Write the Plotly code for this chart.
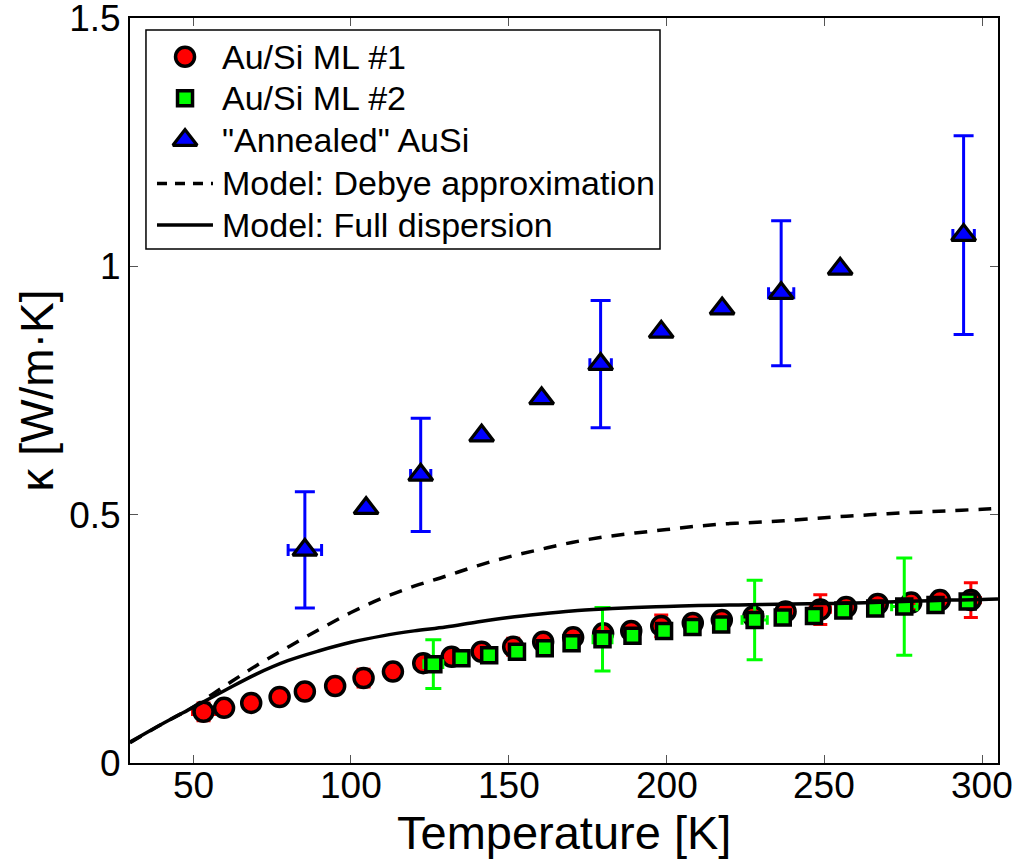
import plotly.graph_objects as go

# ---- Au/Si multilayer #1 (red circles) ----
ml1_T = [53.3, 59.8, 68.4, 77.4, 85.4, 95.0, 104.0, 113.3, 122.9, 131.9, 141.4,
         151.4, 160.9, 170.4, 179.9, 188.8, 198.3, 208.3, 217.5, 227.5, 237.7,
         248.7, 256.9, 266.9, 277.5, 286.6, 296.4]
ml1_k = [0.103, 0.111, 0.121, 0.133, 0.144, 0.155, 0.171, 0.184, 0.201, 0.214, 0.224,
         0.234, 0.244, 0.253, 0.261, 0.266, 0.276, 0.282, 0.288, 0.295, 0.305,
         0.309, 0.314, 0.320, 0.323, 0.328, 0.328]
ml1_dk = [0.018, None, None, None, None, None, 0.018, None, None, None, None,
          0.017, None, None, None, None, 0.022, None, None, None, None,
          0.030, None, None, None, None, 0.035]
ml1_dT = [3.5, None, None, None, None, None, 2.5, None, None, None, None,
          2.5, None, None, None, None, 2.5, None, None, None, None,
          3.2, None, None, None, None, 3.0]

# ---- Au/Si multilayer #2 (green squares) ----
ml2_T = [126.1, 135.0, 143.8, 152.6, 161.4, 169.9, 179.7, 189.2, 199.2, 208.2,
         217.3, 227.9, 236.8, 246.7, 256.0, 266.1, 275.3, 285.2, 295.4]
ml2_k = [0.199, 0.211, 0.217, 0.224, 0.231, 0.241, 0.249, 0.256, 0.266, 0.274,
         0.279, 0.288, 0.293, 0.296, 0.307, 0.311, 0.315, 0.318, 0.325]
ml2_dk = [0.049, None, None, None, None, None, 0.064, None, None, None,
          None, 0.080, None, None, None, None, 0.098, None, None]
ml2_dT = [3.0, None, None, None, None, None, 3.0, None, None, None,
          None, 4.0, None, None, None, None, 4.0, None, None]

# ---- "Annealed" AuSi (blue triangles) ----
ann_T = [85.4, 104.8, 122.1, 141.4, 160.4, 179.1, 198.3, 217.6, 236.3, 255.0, 294.1]
ann_k = [0.429, 0.513, 0.580, 0.659, 0.734, 0.803, 0.868, 0.915, 0.946, 0.995, 1.063]
ann_dk = [0.117, None, 0.114, None, None, 0.128, None, None, 0.146, None, 0.200]
ann_dT = [5.3, None, 3.2, None, None, 3.4, None, None, 4.0, None, 3.4]

# ---- Model curves ----
model_T = [30, 40, 50, 60, 70, 80, 90, 100, 110, 120, 130, 140, 150, 160, 170,
           180, 190, 200, 210, 220, 230, 240, 250, 260, 270, 280, 290, 300, 305]
debye_k = [0.041, 0.078, 0.113, 0.155, 0.196, 0.233, 0.269, 0.303, 0.332, 0.356,
           0.376, 0.397, 0.415, 0.430, 0.444, 0.455, 0.463, 0.470, 0.477, 0.482,
           0.485, 0.489, 0.494, 0.498, 0.502, 0.505, 0.508, 0.511, 0.513]
full_k = [0.042, 0.078, 0.112, 0.146, 0.179, 0.206, 0.226, 0.243, 0.256, 0.266,
          0.274, 0.284, 0.293, 0.300, 0.306, 0.310, 0.313, 0.315, 0.317, 0.318,
          0.319, 0.320, 0.321, 0.322, 0.324, 0.326, 0.328, 0.329, 0.330]

x_ticks = [50, 100, 150, 200, 250, 300]
x_tick_text = ["50", "100", "150", "200", "250", "300"]
y_ticks = [0, 0.5, 1, 1.5]
y_tick_text = ["0", "0.5", "1", "1.5"]

legend_labels = ["Au/Si ML #1", "Au/Si ML #2", "\"Annealed\" AuSi",
                 "Model: Debye approximation", "Model: Full dispersion"]
x_title = "Temperature [K]"
y_title = "κ [W/m·K]"

FONT = "Liberation Sans, Arial, Helvetica, sans-serif"
DASH = "13px,10px"

RED, GREEN, BLUE = "#FF0000", "#00FF00", "#0000FF"
MK = {
    "ml1": dict(symbol="circle", size=19, color=RED, line=dict(color="black", width=3.5)),
    "ml2": dict(symbol="square", size=15, color=GREEN, line=dict(color="black", width=3.5)),
    "ann": dict(symbol="triangle-up", size=21, color=BLUE, line=dict(color="black", width=3.2)),
}


def err_trace(T, k, dk, dT, color, cap):
    idx = [i for i, v in enumerate(dk) if v is not None]
    return go.Scatter(
        x=[T[i] for i in idx], y=[k[i] for i in idx], mode="markers",
        marker=dict(size=1, color="rgba(0,0,0,0)"),
        error_y=dict(type="data", array=[dk[i] for i in idx], color=color,
                     thickness=3, width=cap),
        error_x=dict(type="data", array=[dT[i] for i in idx], color=color,
                     thickness=3, width=cap * 0.6),
        showlegend=False, hoverinfo="skip",
    )


fig = go.Figure()

fig.add_trace(err_trace(ml1_T, ml1_k, ml1_dk, ml1_dT, RED, 7))
fig.add_trace(go.Scatter(x=ml1_T, y=ml1_k, mode="markers", name=legend_labels[0],
                         marker=MK["ml1"], showlegend=False))
fig.add_trace(err_trace(ml2_T, ml2_k, ml2_dk, ml2_dT, GREEN, 8))
fig.add_trace(go.Scatter(x=ml2_T, y=ml2_k, mode="markers", name=legend_labels[1],
                         marker=MK["ml2"], showlegend=False))
fig.add_trace(err_trace(ann_T, ann_k, ann_dk, ann_dT, BLUE, 10))
fig.add_trace(go.Scatter(x=ann_T, y=ann_k, mode="markers", name=legend_labels[2],
                         marker=MK["ann"], showlegend=False))
fig.add_trace(go.Scatter(x=model_T, y=debye_k, mode="lines", name=legend_labels[3],
                         line=dict(color="black", width=3.5, dash=DASH, shape="spline"),
                         showlegend=False))
fig.add_trace(go.Scatter(x=model_T, y=full_k, mode="lines", name=legend_labels[4],
                         line=dict(color="black", width=3.5, shape="spline"),
                         showlegend=False))

# ---- legend box, drawn on an overlay axis spanning the plot area (0..1) ----
leg_x0, leg_x1, leg_y0, leg_y1 = 0.0184, 0.6106, 0.690, 0.984
row_y = [0.948, 0.8922, 0.8362, 0.778, 0.722]
sym_x = 0.0634
line_x = [0.0311, 0.0956]
text_x = 0.1037

fig.add_shape(type="rect", xref="paper", yref="paper",
              x0=leg_x0, x1=leg_x1, y0=leg_y0, y1=leg_y1,
              line=dict(color="black", width=1.5), fillcolor="white", layer="below")
for key, yy in zip(["ml1", "ml2", "ann"], row_y[:3]):
    fig.add_trace(go.Scatter(x=[sym_x], y=[yy], xaxis="x2", yaxis="y2",
                             mode="markers", marker=MK[key],
                             showlegend=False, hoverinfo="skip"))
fig.add_trace(go.Scatter(x=line_x, y=[row_y[3]] * 2, xaxis="x2", yaxis="y2", mode="lines",
                         line=dict(color="black", width=3.5, dash="10px,8px"),
                         showlegend=False, hoverinfo="skip"))
fig.add_trace(go.Scatter(x=line_x, y=[row_y[4]] * 2, xaxis="x2", yaxis="y2", mode="lines",
                         line=dict(color="black", width=3.5),
                         showlegend=False, hoverinfo="skip"))
for label, yy in zip(legend_labels, row_y):
    fig.add_annotation(x=text_x, y=yy, xref="paper", yref="paper", text=label,
                       showarrow=False, xanchor="left", yanchor="middle",
                       font=dict(family=FONT, size=34, color="black"))

# x tick labels, set at the tick values just under the axis
for tv, tt in zip(x_ticks, x_tick_text):
    fig.add_annotation(x=tv, y=-0.030, xref="x", yref="paper", text=tt,
                       showarrow=False, xanchor="center", yanchor="middle",
                       font=dict(family=FONT, size=37, color="black"))

# x-axis title placed below the tick labels
fig.add_annotation(x=0.5, y=-0.093, xref="paper", yref="paper", text=x_title,
                   showarrow=False, xanchor="center", yanchor="middle",
                   font=dict(family=FONT, size=47, color="black"))

fig.update_layout(
    width=1019, height=859,
    margin=dict(l=130, r=21, t=18, b=96, autoexpand=False),
    paper_bgcolor="white", plot_bgcolor="white",
    font=dict(family=FONT, color="black", size=36),
    showlegend=False,
    xaxis=dict(
        range=[30, 305], tickvals=x_ticks, ticks="inside", ticklen=8,
        tickcolor="#555555", tickwidth=1, showline=True, linecolor="black",
        linewidth=2, mirror="ticks", showgrid=False, zeroline=False,
        showticklabels=False, automargin=False,
    ),
    yaxis=dict(
        range=[0, 1.5], tickvals=y_ticks, ticktext=y_tick_text, ticks="inside",
        ticklen=8, tickcolor="#555555", tickwidth=1, showline=True,
        linecolor="black", linewidth=2, mirror="ticks", showgrid=False,
        zeroline=False, tickfont=dict(size=37), ticklabeloverflow="allow",
        automargin=False,
        title=dict(text=y_title, font=dict(size=46), standoff=1),
    ),
    xaxis2=dict(overlaying="x", range=[0, 1], visible=False, fixedrange=True),
    yaxis2=dict(overlaying="y", range=[0, 1], visible=False, fixedrange=True),
)

fig.write_html("out.html")
